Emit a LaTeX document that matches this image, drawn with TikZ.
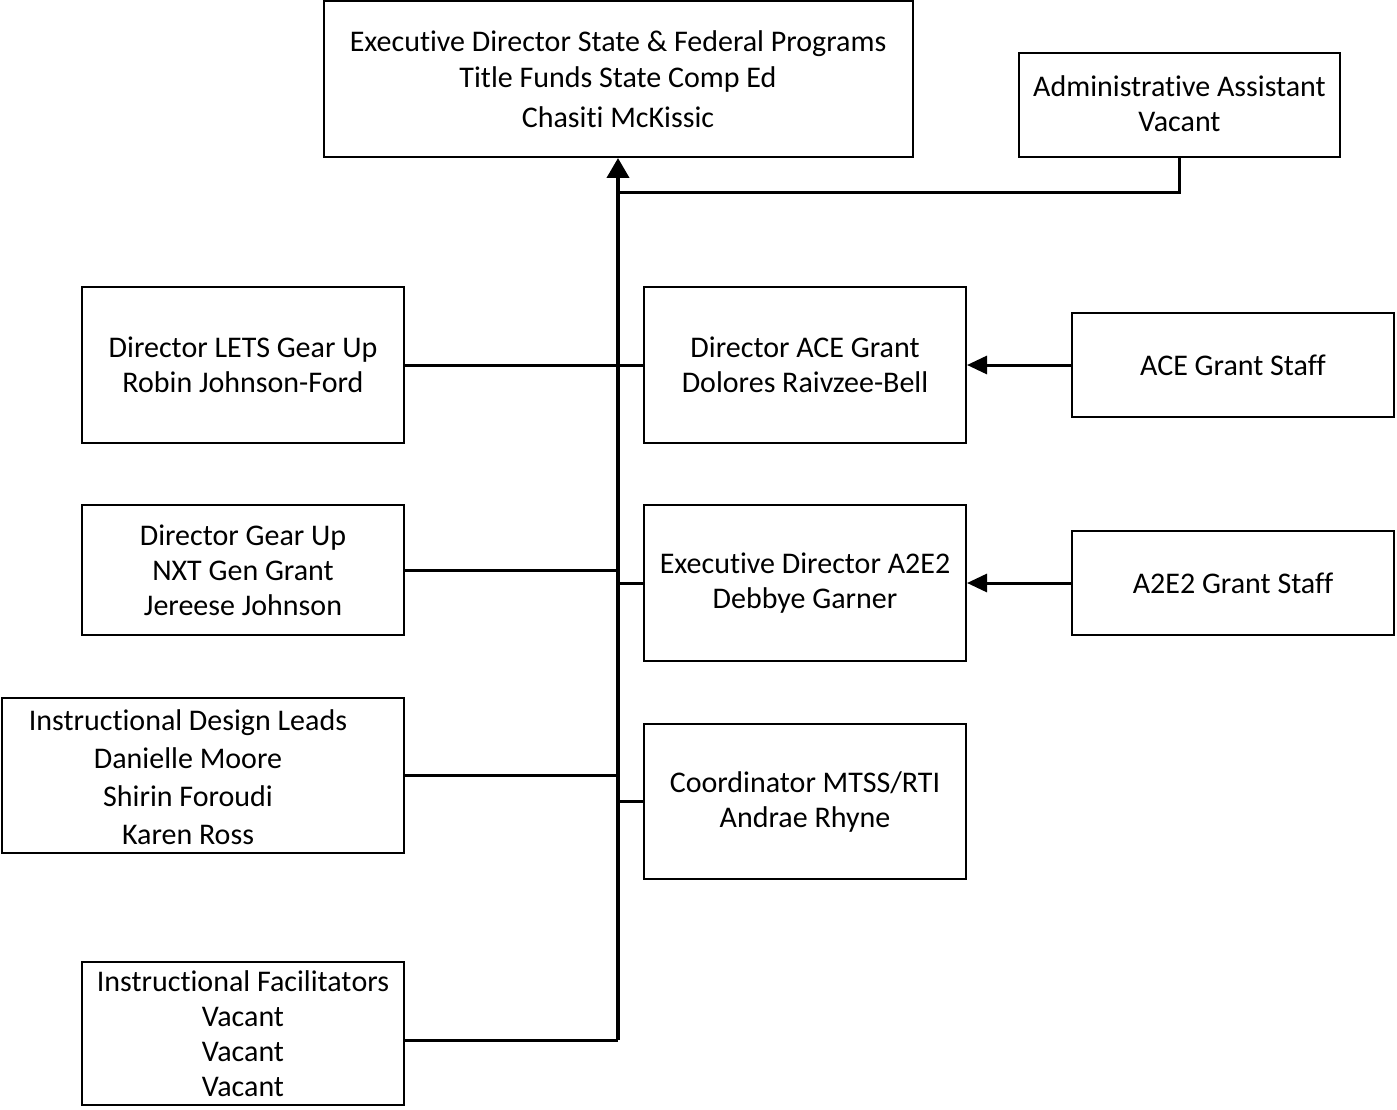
\documentclass[tikz,border=0pt]{standalone}
\usepackage{fontspec}
\setmainfont{Carlito}[RawFeature={-liga;-clig;-calt;-dlig}]
\usetikzlibrary{arrows.meta}
% break the t-i ligature of the font
\newcommand\nolig{\kern0pt}
\begin{document}
\begin{tikzpicture}[x=1pt,y=-1pt,
  box/.style={draw, line width=2pt, align=center, inner sep=0pt,
    font=\fontsize{30}{35}\selectfont},
  conn/.style={line width=3pt},
  trunk/.style={line width=4pt},
  tip/.style={-{Triangle[width=18pt,length=20pt]}}]
\useasboundingbox (0,0) rectangle (1397,1110);

% top level
\node[box, minimum width=589pt, minimum height=156pt] (exec) at (618,79)
  {Execut\nolig ive Director State \& Federal Programs\\[1pt] Title Funds State Comp Ed\\[5pt] Chasit\nolig i McKissic};
\node[box, minimum width=321pt, minimum height=104pt, text depth=2pt] (admin) at (1179.5,105)
  {Administrat\nolig ive Assistant\\ Vacant};

% left column
\node[box, minimum width=322pt, minimum height=156pt] (lets) at (243,365)
  {Director LETS Gear Up\\ Robin Johnson-Ford};
\node[box, minimum width=322pt, minimum height=130pt] (gear) at (243,570)
  {Director Gear Up\\ NXT Gen Grant\\ Jereese Johnson};
\node[box, minimum width=402pt, minimum height=155pt] (idl) at (203,775.5) {};
\node[font=\fontsize{30}{38}\selectfont, align=center, inner sep=0pt] (idltext) at (188,777)
  {Instruct\nolig ional Design Leads\\ Danielle Moore\\ Shirin Foroudi\\ Karen Ross};
\node[box, minimum width=322pt, minimum height=143pt] (facil) at (243,1033.5)
  {Instruct\nolig ional Facilitat\nolig ors\\ Vacant\\ Vacant\\ Vacant};

% right column
\node[box, minimum width=322pt, minimum height=156pt] (ace) at (805,365)
  {Director ACE Grant\\ Dolores Raivzee-Bell};
\node[box, minimum width=322pt, minimum height=156pt] (a2e2) at (805,583)
  {Execut\nolig ive Director A2E2\\ Debbye Garner};
\node[box, minimum width=322pt, minimum height=155pt] (mtss) at (805,801.5)
  {Coordinator MTSS/RTI\\ Andrae Rhyne};
\node[box, minimum width=322pt, minimum height=104pt] (acestaff) at (1233,365)
  {ACE Grant Staff};
\node[box, minimum width=322pt, minimum height=104pt] (a2e2staff) at (1233,583)
  {A2E2 Grant Staff};

% trunk and its branches
\coordinate (tb) at (618,1040);
\coordinate (elbow) at (618,193);
\draw[trunk, -{Triangle[width=22pt,length=20pt]}] (tb) -- (exec.south);
\draw[conn] (facil.east |- tb) -- (tb);
\draw[conn] (admin.south) |- (elbow);
\draw[conn] (lets.east) -- (ace.west);
\draw[conn] (gear.east) -- (gear.east -| tb);
\draw[conn] (idl.east) -- (idl.east -| tb);
\draw[conn] (tb |- a2e2.west) -- (a2e2.west);
\draw[conn] (tb |- mtss.west) -- (mtss.west);

% staff reporting arrows
\draw[conn, tip] (acestaff.west) -- (ace.east);
\draw[conn, tip] (a2e2staff.west) -- (a2e2.east);
\end{tikzpicture}
\end{document}
